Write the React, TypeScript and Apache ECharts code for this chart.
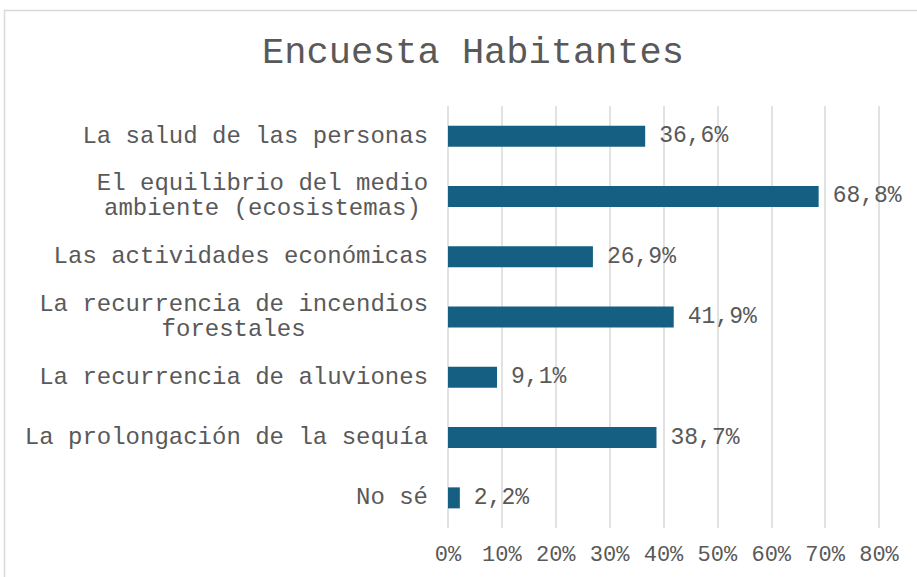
import React, { useEffect, useRef } from "react";
import * as echarts from "echarts";

const title = "Encuesta Habitantes";
const categories = [
  "La salud de las personas",
  "El equilibrio del medio\nambiente (ecosistemas)",
  "Las actividades económicas",
  "La recurrencia de incendios\nforestales",
  "La recurrencia de aluviones",
  "La prolongación de la sequía",
  "No sé",
];
const values = [36.6, 68.8, 26.9, 41.9, 9.1, 38.7, 2.2];
const xTicks = [0, 10, 20, 30, 40, 50, 60, 70, 80];

const FONT = "'Liberation Mono', 'Courier New', monospace";
const TEXT = "#595959";
const CAT_SIZE = 24;

export default function App() {
  const ref = useRef<HTMLDivElement>(null);
  useEffect(() => {
    if (!ref.current) return;
    const chart = echarts.init(ref.current, undefined, { renderer: "svg" });
    const rich: Record<string, any> = {};
    categories.forEach((c, i) => {
      const maxLen = Math.max(...c.split("\n").map((l) => l.length));
      rich["r" + i] = {
        width: maxLen * CAT_SIZE * 0.6,
        align: "center",
        fontFamily: FONT,
        fontSize: CAT_SIZE,
        color: TEXT,
        lineHeight: 25,
      };
    });
    chart.setOption({
      animation: false,
      backgroundColor: "#ffffff",
      title: {
        text: title,
        left: 468,
        top: 29,
        textAlign: "center",
        textStyle: {
          fontFamily: FONT,
          fontSize: 37,
          fontWeight: "normal",
          color: TEXT,
        },
      },
      graphic: [
        {
          type: "rect",
          shape: { x: 4.5, y: 10.5, width: 1000, height: 1000 },
          style: { fill: "none", stroke: "#d9d9d9", lineWidth: 1.5 },
          silent: true,
        },
      ],
      grid: { left: 448, right: 38, top: 106, bottom: 49, containLabel: false },
      xAxis: {
        type: "value",
        min: xTicks[0],
        max: xTicks[xTicks.length - 1],
        interval: 10,
        axisLine: { show: false },
        axisTick: { show: false },
        splitLine: { show: true, lineStyle: { color: "#d9d9d9", width: 1.5 } },
        axisLabel: {
          formatter: (v: number) => `${v}%`,
          fontFamily: FONT,
          fontSize: 22,
          color: TEXT,
          margin: 16,
        },
      },
      yAxis: {
        type: "category",
        inverse: true,
        data: categories,
        axisLine: { show: false },
        axisTick: { show: false },
        axisLabel: {
          margin: 20,
          align: "right",
          fontFamily: FONT,
          fontSize: CAT_SIZE,
          color: TEXT,
          lineHeight: 25,
          rich,
          formatter: (v: string) => {
            const i = categories.indexOf(v);
            return v
              .split("\n")
              .map((l) => `{r${i}|${l}}`)
              .join("\n");
          },
        },
      },
      series: [
        {
          type: "bar",
          data: values,
          barWidth: 21,
          itemStyle: { color: "#156082" },
          label: {
            show: true,
            position: "right",
            distance: 14,
            formatter: (p: any) => `${p.value.toFixed(1).replace(".", ",")}%`,
            fontFamily: FONT,
            fontSize: 23,
            color: TEXT,
          },
        },
      ],
    });
    return () => chart.dispose();
  }, []);
  return (
    <div
      ref={ref}
      style={{ position: "absolute", left: 0, top: 0, width: 917, height: 577 }}
    />
  );
}
